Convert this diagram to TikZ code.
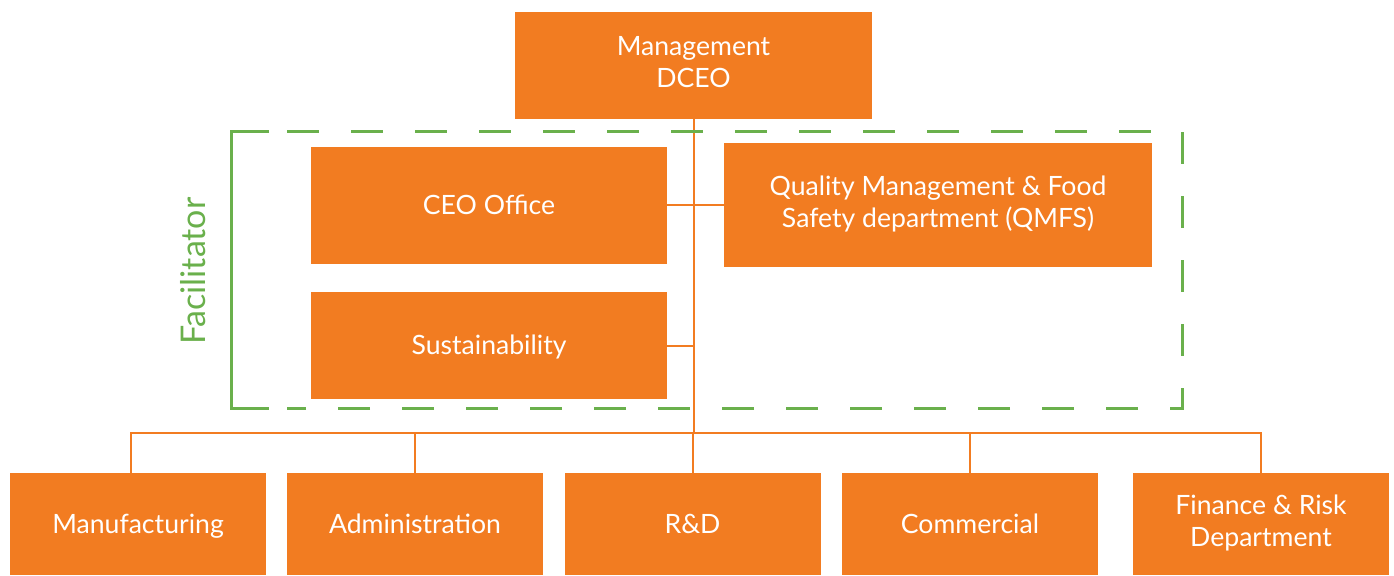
\documentclass[tikz,border=0pt]{standalone}
\usepackage{fontspec}
\setmainfont{Lato}
\definecolor{boxorange}{RGB}{242,124,33}
\definecolor{facilgreen}{RGB}{106,176,76}
\usetikzlibrary{positioning}
\newcommand\unitstrut{\rule[-3.3pt]{0pt}{16pt}}

\begin{document}
\begin{tikzpicture}[x=0.5pt,y=-0.5pt,line cap=butt,line join=miter,
  unit/.style={fill=boxorange,text=white,inner sep=0pt,outer sep=0pt,align=center,
    font=\fontsize{13.3}{16}\selectfont,minimum width=128pt,minimum height=51pt,
    execute at begin node=\unitstrut,execute at end node=\unitstrut},
  link/.style={draw=boxorange,line width=1pt},
  facil/.style={draw=facilgreen,line width=1.5pt}]
\useasboundingbox (0,0) rectangle (1394,575);
% top and facilitator boxes
\node[unit,minimum width=178.5pt,minimum height=53.5pt] (mgmt) at (693.5,65.5) {Management\\DCEO};
\node[unit,minimum width=178pt,minimum height=58.5pt] (ceo) at (489,205) {CEO Office};
\node[unit,minimum width=178pt,minimum height=53.5pt] (sust) at (489,345.5) {Sustainability};
\node[unit,minimum width=214pt,minimum height=62pt] (qmfs) at (938,205) {Quality Management \& Food\\Safety department (QMFS)};
% departments
\node[unit] (man) at (138,524) {Manufacturing};
\node[unit] (adm) at (415,524) {Administration};
\node[unit] (rnd) at (692.5,524) {R\&D};
\node[unit] (com) at (970,524) {Commercial};
\node[unit] (fin) at (1261,524) {Finance \& Risk\\Department};
\coordinate (bus) at (693.5,433);
% connectors
\draw[link] (mgmt.south) -- (bus);
\draw[link] (ceo.east) -- (qmfs.west);
\draw[link] (sust.east) -- (sust.east -| bus);
\draw[link] ([xshift=-3.5pt]man.north) |- (bus) -| (fin.north);
\foreach \d in {adm,rnd,com}
  \draw[link] (\d.north) -- (\d.north |- bus);
% facilitator frame
\draw[facil] (269,131) -- (231,131) -- (231,408) -- (269,408);
\draw[facil,dash pattern=on 16pt off 16pt] (287,131) -- (1182,131) -- (1182,408) -- (287,408);
\node[text=facilgreen,rotate=90,font=\fontsize{17}{20}\selectfont] (facilitator) at (193,271) {Facilitator};
\end{tikzpicture}
\end{document}
